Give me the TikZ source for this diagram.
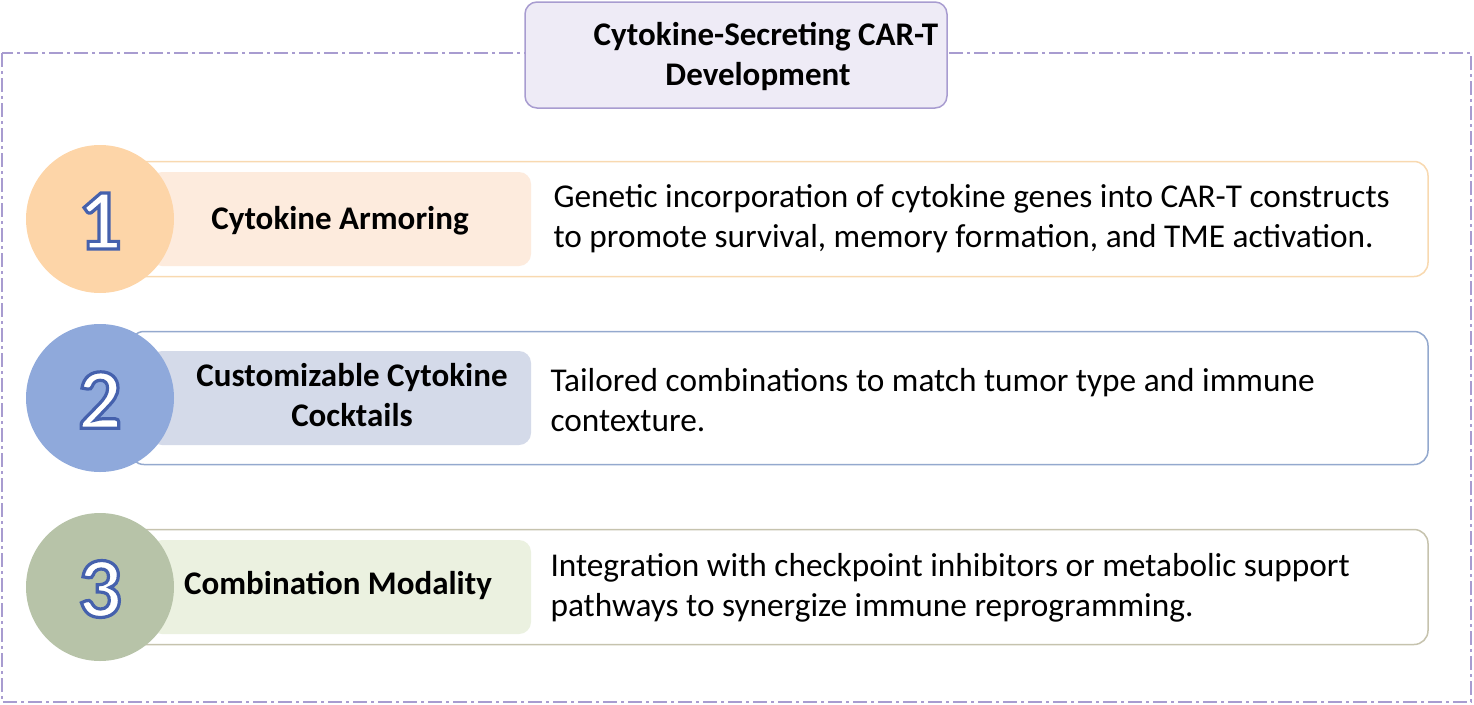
\documentclass[tikz,border=0pt]{standalone}
\usepackage{fontspec}
\setmainfont{Carlito}
\newcommand{\outlnum}[1]{\textcolor{white}{\special{pdf:code q 2 Tr 3.2 w 0.27 0.38 0.68 RG}#1\special{pdf:code Q}}}
\begin{document}
\begin{tikzpicture}[x=1pt,y=-1pt,
  outer/.style={draw=#1,line width=1.5pt,rounded corners=14pt,fill=white},
  lbl/.style={fill=#1,rounded corners=12pt,draw=none},
  circ/.style={circle,fill=#1,minimum size=148pt,inner sep=0pt},
  num/.style={font=\bfseries\fontsize{86}{86}\selectfont},
  ltxt/.style={font=\bfseries\fontsize{33}{40}\selectfont,align=center},
  dtxt/.style={font=\fontsize{33.3}{40}\selectfont,align=left,anchor=west}]
\useasboundingbox (0,0) rectangle (1474,704);
\definecolor{frame}{HTML}{A89CD0}
\draw[frame,line width=1.3pt,dash pattern=on 14pt off 4pt on 3pt off 4pt] (2,53) rectangle (1471,702);
\node[draw=frame,fill=frame!20,line width=1.5pt,rounded corners=12pt,minimum width=422pt,minimum height=106pt] (title) at (736,55) {};
\node[font=\bfseries\fontsize{33}{40}\selectfont,align=center] (tt) at (758,56) {\hspace*{16pt}Cytokine-Secreting CAR-T\\Development};
\foreach \y/\h/\bc/\cc/\lc/\n in {219/115/F8D9B0/FDD5A8/FDEBDD/1, 398/133/94A9CE/8FA9DB/D4DAE9/2, 587/115/C6C3AE/B7C3A8/EBF1E0/3}{
  \definecolor{bc}{HTML}{\bc}\definecolor{cc}{HTML}{\cc}\definecolor{lc}{HTML}{\lc}
  \draw[outer=bc] (130,\y-\h/2) rectangle (1428,\y+\h/2);
  \fill[lbl=lc] (150,\y-47) rectangle (531,\y+47);
  \node[circ=cc] (c\n) at (100,\y) {};
  \node[num] (n\n) at (100,\y+2) {\outlnum{\n}};
}
\node[ltxt] (l1) at (340,221) {Cytokine Armoring};
\node[ltxt] (l2) at (352,395) {Customizable Cytokine\\Cocktails};
\node[ltxt] (l3) at (338,585) {Combination Modality};
\node[dtxt] (d1) at (550,219) {Genetic incorporation of cytokine genes into CAR-T constructs\\to promote survival, memory formation, and TME activation.};
\node[dtxt] (d2) at (547,400) {Tailored combinations to match tumor type and immune\\contexture.};
\node[dtxt] (d3) at (547,588) {Integration with checkpoint inhibitors or metabolic support\\pathways to synergize immune reprogramming.};
\end{tikzpicture}
\end{document}
